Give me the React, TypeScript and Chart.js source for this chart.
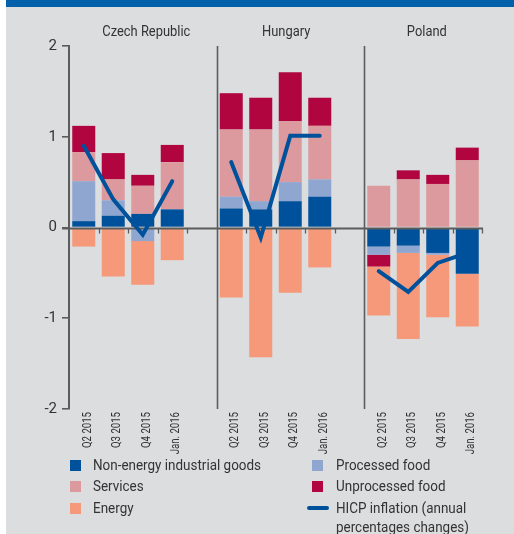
import React, { useEffect, useRef } from 'react';
import { Chart, registerables } from 'chart.js';

Chart.register(...registerables);

// ---- data ----
const periods = ['Q2 2015', 'Q3 2015', 'Q4 2015', 'Jan. 2016'];
const countries = ['Czech Republic', 'Hungary', 'Poland'];
// values per country (Czech Republic, Hungary, Poland), 4 periods each
const nonEnergy = [0.07, 0.13, 0.15, 0.2, 0.21, 0.2, 0.29, 0.34, -0.21, -0.2, -0.28, -0.51];
const processedFood = [0.44, 0.17, -0.15, 0, 0.13, 0.09, 0.21, 0.19, -0.09, -0.08, -0.02, 0];
const services = [0.32, 0.23, 0.31, 0.52, 0.74, 0.79, 0.67, 0.59, 0.46, 0.53, 0.48, 0.74];
const unprocessedFood = [0.29, 0.29, 0.12, 0.19, 0.4, 0.35, 0.54, 0.31, -0.13, 0.1, 0.1, 0.14];
const energy = [-0.21, -0.54, -0.48, -0.36, -0.77, -1.43, -0.72, -0.44, -0.54, -0.95, -0.69, -0.58];
const hicp = [0.9, 0.31, -0.08, 0.51, 0.72, -0.11, 1.01, 1.01, -0.48, -0.71, -0.39, -0.28];
const yMin = -2;
const yMax = 2;
// where each panel title sits along the category axis (fractional slot index)
const titleSlots = [2.12, 6.86, 11.63];

const COLORS = {
  nonEnergy: '#00519b',
  processed: '#8fa6d0',
  services: '#dc9a9e',
  unprocessed: '#b0053f',
  energy: '#f5997a',
  line: '#00519b',
  axis: '#5c5c5c',
  text: '#333333',
  bg: '#dcdddf',
  header: '#0060a9',
};

const FONT = 'Roboto, "Liberation Sans", Arial, sans-serif';

// horizontal compression so the condensed reference typography is matched
function fitScale(text: string, font: string, target: number) {
  const c = document.createElement('canvas').getContext('2d');
  if (!c) return 1;
  c.font = font;
  const w = c.measureText(text).width;
  return w > 0 ? target / w : 1;
}

function withGaps<T>(values: T[], gap: T): T[] {
  const out: T[] = [];
  countries.forEach((_, c) => {
    if (c > 0) out.push(gap);
    for (let p = 0; p < periods.length; p++) out.push(values[c * periods.length + p]);
  });
  return out;
}

const labels = withGaps(countries.flatMap(() => periods), '');
const slotCount = labels.length;

const TITLE_FONT = `15.5px ${FONT}`;
const XLABEL_FONT = `12px ${FONT}`;

const panelPlugin = {
  id: 'panels',
  beforeDatasetsDraw(chart: any) {
    const { ctx, chartArea, scales } = chart;
    const x = scales.x;
    const slot = (chartArea.right - chartArea.left) / slotCount;
    ctx.save();
    ctx.strokeStyle = COLORS.axis;
    ctx.lineWidth = 1.6;
    [5, 10].forEach((i) => {
      const px = Math.round(x.getPixelForValue(i) - slot / 2) + 0.5;
      ctx.beginPath();
      ctx.moveTo(px, chartArea.top);
      ctx.lineTo(px, chartArea.bottom);
      ctx.stroke();
    });
    ctx.restore();
  },
  beforeDatasetDraw(chart: any, args: any) {
    if (args.meta.type !== 'line') return;
    const { ctx, chartArea, scales } = chart;
    const x = scales.x;
    const y0 = Math.round(scales.y.getPixelForValue(0)) + 0.5;
    const slot = (chartArea.right - chartArea.left) / slotCount;
    ctx.save();
    ctx.strokeStyle = COLORS.axis;
    ctx.lineWidth = 2;
    ctx.beginPath();
    ctx.moveTo(chartArea.left - 7, y0);
    ctx.lineTo(chartArea.right + 1, y0);
    ctx.stroke();
    ctx.lineWidth = 1.3;
    for (let i = 0; i < slotCount; i++) {
      if (labels[i] === '') continue;
      const px = Math.round(x.getPixelForValue(i) + slot / 2) + 0.5;
      ctx.beginPath();
      ctx.moveTo(px, y0);
      ctx.lineTo(px, y0 + 5);
      ctx.stroke();
    }
    ctx.restore();
  },
  afterDraw(chart: any) {
    const { ctx, scales, chartArea } = chart;
    ctx.save();
    ctx.fillStyle = COLORS.text;
    // panel titles
    ctx.font = TITLE_FONT;
    ctx.textBaseline = 'middle';
    ctx.textAlign = 'center';
    const ts = fitScale('Czech Republic', TITLE_FONT, 88);
    countries.forEach((name, i) => {
      ctx.save();
      ctx.translate(scales.x.getPixelForValue(titleSlots[i]), 25);
      ctx.scale(ts, 1);
      ctx.fillText(name, 0, 0);
      ctx.restore();
    });
    // rotated category labels
    ctx.font = XLABEL_FONT;
    ctx.textAlign = 'right';
    ctx.textBaseline = 'alphabetic';
    const xs = fitScale('Q2 2015', XLABEL_FONT, 36);
    labels.forEach((lab, i) => {
      if (!lab) return;
      ctx.save();
      ctx.translate(scales.x.getPixelForValue(i) + 7, chartArea.bottom + 3);
      ctx.rotate(-Math.PI / 2);
      ctx.scale(xs, 1);
      ctx.fillText(lab, 0, 0);
      ctx.restore();
    });
    ctx.restore();
  },
};

function ChartCanvas() {
  const ref = useRef<HTMLCanvasElement>(null);
  useEffect(() => {
    if (!ref.current) return;
    const bar = (label: string, data: number[], color: string) => ({
      type: 'bar' as const,
      label,
      data: withGaps<number | null>(data, null),
      backgroundColor: color,
      borderWidth: 0,
      categoryPercentage: 1,
      barPercentage: 0.78,
      order: 1,
    });
    const chart = new Chart(ref.current, {
      type: 'bar',
      data: {
        labels,
        datasets: [
          bar('Non-energy industrial goods', nonEnergy, COLORS.nonEnergy),
          bar('Processed food', processedFood, COLORS.processed),
          bar('Services', services, COLORS.services),
          bar('Unprocessed food', unprocessedFood, COLORS.unprocessed),
          bar('Energy', energy, COLORS.energy),
          {
            type: 'line' as const,
            label: 'HICP inflation (annual percentages changes)',
            data: withGaps<number | null>(hicp, null),
            borderColor: COLORS.line,
            borderWidth: 4,
            pointRadius: 0,
            pointHoverRadius: 0,
            spanGaps: false,
            tension: 0,
            borderCapStyle: 'round',
            borderJoinStyle: 'miter',
            stack: 'hicp',
            order: 0,
          } as any,
        ],
      },
      options: {
        responsive: false,
        animation: false,
        devicePixelRatio: 1,
        layout: { padding: { top: 39, right: 32, left: 0, bottom: 0 } },
        plugins: { legend: { display: false }, tooltip: { enabled: false }, title: { display: false } },
        scales: {
          x: {
            stacked: true,
            offset: true,
            grid: { display: false, drawTicks: false },
            border: { display: false },
            ticks: { display: false, autoSkip: false },
            afterFit: (s: any) => {
              s.height = 125;
            },
          },
          y: {
            stacked: true,
            min: yMin,
            max: yMax,
            ticks: {
              stepSize: 1,
              padding: 5,
              color: COLORS.text,
              font: { family: FONT, size: 15 },
            },
            grid: {
              drawOnChartArea: false,
              drawTicks: true,
              tickLength: 7,
              tickColor: COLORS.axis,
              lineWidth: 1.6,
            },
            border: { display: true, color: COLORS.axis, width: 2 },
            afterFit: (s: any) => {
              s.width = 63;
            },
          },
        },
      },
      plugins: [panelPlugin],
    } as any);
    return () => chart.destroy();
  }, []);
  return <canvas ref={ref} width={508} height={527} style={{ position: 'absolute', left: 6, top: 7, width: 508, height: 527 }} />;
}

const legendItems = [
  { label: 'Non-energy industrial goods', color: COLORS.nonEnergy, kind: 'box', col: 0, row: 0 },
  { label: 'Processed food', color: COLORS.processed, kind: 'box', col: 1, row: 0 },
  { label: 'Services', color: COLORS.services, kind: 'box', col: 0, row: 1 },
  { label: 'Unprocessed food', color: COLORS.unprocessed, kind: 'box', col: 1, row: 1 },
  { label: 'Energy', color: COLORS.energy, kind: 'box', col: 0, row: 2 },
  { label: 'HICP inflation (annual\npercentages changes)', color: COLORS.line, kind: 'line', col: 1, row: 2 },
];

const LEGEND_FONT_SIZE = 15.5;

function Legend() {
  const rowY = [465, 486, 508];
  const boxX = [70, 312];
  const textX = [93, 336];
  const sx = fitScale('Non-energy industrial goods', `${LEGEND_FONT_SIZE}px ${FONT}`, 168);
  return (
    <>
      {legendItems.map((it, i) => {
        const cy = rowY[it.row];
        const lines = it.label.split('\n');
        return (
          <React.Fragment key={i}>
            {it.kind === 'box' ? (
              <div style={{ position: 'absolute', left: boxX[it.col], top: cy - 5.5, width: 11, height: 11, background: it.color }} />
            ) : (
              <div style={{ position: 'absolute', left: 307, top: cy - 2, width: 22, height: 4, borderRadius: 2, background: it.color }} />
            )}
            {lines.map((ln, j) => (
              <div
                key={j}
                style={{
                  position: 'absolute',
                  left: textX[it.col],
                  top: cy - 10 + j * 19,
                  height: 20,
                  lineHeight: '20px',
                  fontFamily: FONT,
                  fontSize: LEGEND_FONT_SIZE,
                  color: COLORS.text,
                  whiteSpace: 'nowrap',
                  transform: `scaleX(${sx})`,
                  transformOrigin: 'left center',
                }}
              >
                {ln}
              </div>
            ))}
          </React.Fragment>
        );
      })}
    </>
  );
}

export default function App() {
  return (
    <div style={{ position: 'absolute', left: 0, top: 0, width: 514, height: 534, background: '#ffffff', overflow: 'hidden' }}>
      <div style={{ position: 'absolute', left: 6, top: 0, width: 508, height: 7, background: COLORS.header }} />
      <div style={{ position: 'absolute', left: 6, top: 7, width: 508, height: 527, background: COLORS.bg }} />
      <ChartCanvas />
      <Legend />
    </div>
  );
}
